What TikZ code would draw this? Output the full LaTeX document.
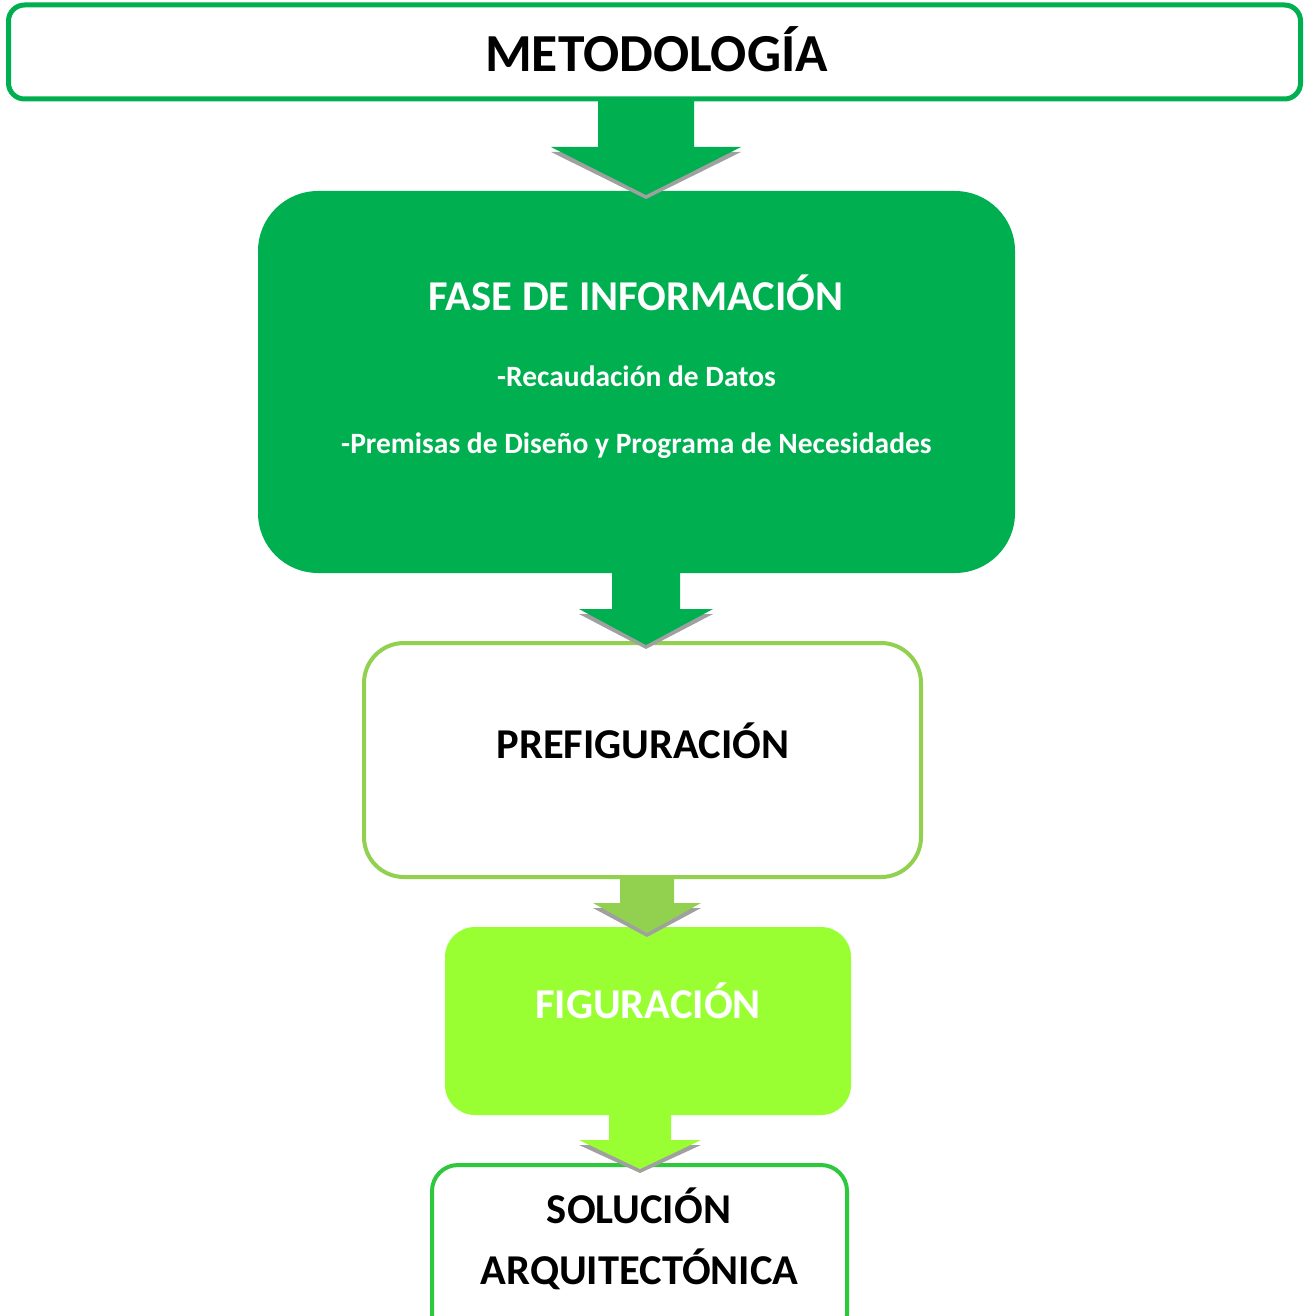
\documentclass[tikz,border=0pt]{standalone}
\usepackage{fontspec}
\setmainfont{Carlito}
\usetikzlibrary{calc}
\definecolor{dgreen}{HTML}{00B050}
\definecolor{lgreen}{HTML}{92D050}
\definecolor{lime}{HTML}{99FF33}
\definecolor{sgreen}{RGB}{46,200,60}
\definecolor{shadowgray}{RGB}{160,160,160}
\tikzset{
  box/.style={rectangle, inner sep=0pt, outer sep=0pt},
  txt/.style={anchor=base, inner sep=0pt, font=\bfseries},
}
% #1 from, #2 to, #3 center x, #4 shaft half, #5 head half, #6 head height, #7 tip overlap, #8 colour
\newcommand\flowarrow[8]{%
  \fill[shadowgray] let \p1=(#1.south), \p2=(#2.north) in
    (#3pt-#5pt,\y2-#7pt+#6pt-5pt) -- (#3pt+#5pt,\y2-#7pt+#6pt-5pt) -- (#3pt,\y2-#7pt-4pt) -- cycle;
  \fill[#8] let \p1=(#1.south), \p2=(#2.north) in
    (#3pt-#4pt,\y1+1pt) -- (#3pt-#4pt,\y2-#7pt+#6pt) -- (#3pt-#5pt,\y2-#7pt+#6pt)
    -- (#3pt,\y2-#7pt) -- (#3pt+#5pt,\y2-#7pt+#6pt) -- (#3pt+#4pt,\y2-#7pt+#6pt)
    -- (#3pt+#4pt,\y1+1pt) -- cycle;
}
\begin{document}
\begin{tikzpicture}[x=1pt,y=1pt]
\useasboundingbox (0,0) rectangle (1305,-1316);
\clip (0,0) rectangle (1305,-1316);
\fill[white] (0,0) rectangle (1305,-1316);

% boxes
\node[box, draw=dgreen, line width=5pt, rounded corners=16pt,
      minimum width=1292pt, minimum height=94pt] (meto) at (654.5,-52) {};
\node[box, fill=dgreen, rounded corners=60pt,
      minimum width=757pt, minimum height=382pt] (fase) at (636.5,-382) {};
\node[box, draw=lgreen, line width=4pt, rounded corners=40pt,
      minimum width=557pt, minimum height=234pt] (pref) at (642.5,-760) {};
\node[box, fill=lime, rounded corners=30pt,
      minimum width=406pt, minimum height=188pt] (fig) at (648,-1021) {};
\node[box, draw=sgreen, line width=4pt, rounded corners=26pt,
      minimum width=415pt, minimum height=175pt] (sol) at (639.5,-1252.5) {};

% arrows
\flowarrow{meto}{fase}{646}{48}{95}{48}{4}{dgreen}
\flowarrow{fase}{pref}{646}{34}{67}{36}{2}{dgreen}
\flowarrow{pref}{fig}{647}{27}{54}{30}{6}{lgreen}
\flowarrow{fig}{sol}{640}{31}{61}{29}{4}{lime}

% texts
\node[txt, font=\bfseries\fontsize{53.5}{64}\selectfont] (tmeto) at (656.5,-72) {METODOLOGÍA};
\node[txt, text=white, font=\bfseries\fontsize{42.5}{50}\selectfont] (tfase) at (636,-310) {FASE DE INFORMACIÓN};
\node[txt, text=white, font=\bfseries\fontsize{29.5}{35}\selectfont] (trec) at (636.5,-386) {-Recaudación de Datos};
\node[txt, text=white, font=\bfseries\fontsize{29.5}{35}\selectfont] (tprem) at (636.5,-453) {-Premisas de Diseño y Programa de Necesidades};
\node[txt, font=\bfseries\fontsize{42.5}{50}\selectfont] (tpref) at (643,-758) {PREFIGURACIÓN};
\node[txt, text=white, font=\bfseries\fontsize{42.5}{50}\selectfont] (tfig) at (648,-1018) {FIGURACIÓN};
\node[txt, font=\bfseries\fontsize{42.5}{50}\selectfont] (tsol) at (639,-1223) {SOLUCIÓN};
\node[txt, font=\bfseries\fontsize{42.5}{50}\selectfont] (tarq) at (639.5,-1284) {ARQUITECTÓNICA};
\end{tikzpicture}
\end{document}
